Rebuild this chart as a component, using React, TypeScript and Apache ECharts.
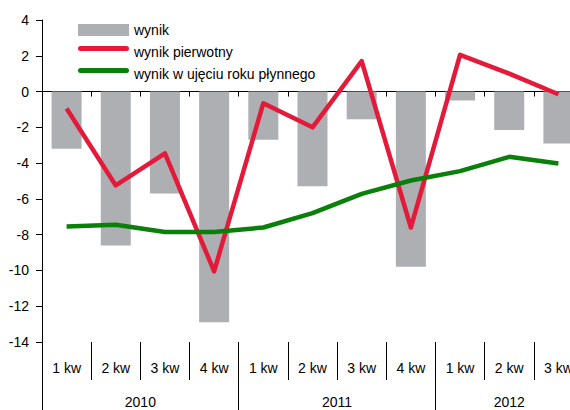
import React, { useEffect, useRef } from "react";
import * as echarts from "echarts";

const quarters = ["1 kw", "2 kw", "3 kw", "4 kw", "1 kw", "2 kw", "3 kw", "4 kw", "1 kw", "2 kw", "3 kw"];
const years = ["2010", "2010", "2010", "2010", "2011", "2011", "2011", "2011", "2012", "2012", "2012"];
const wynik = [-3.2, -8.6, -5.7, -12.9, -2.7, -5.3, -1.55, -9.8, -0.5, -2.15, -2.9];
const wynikPierwotny = [-0.95, -5.25, -3.45, -10.05, -0.65, -2.0, 1.7, -7.6, 2.05, 1.0, -0.15];
const wynikRoku = [-7.55, -7.45, -7.85, -7.85, -7.6, -6.8, -5.72, -4.97, -4.45, -3.65, -4.02];
const yTicks = { min: -14, max: 4, interval: 2 };

const FONT = "Liberation Sans, Arial, sans-serif";
// rounded bar near the top of the 51x12 icon box (an invisible zero-area line keeps the box height)
const LINE_ICON =
  "path://M2.5,0 H48.5 A2.5,2.5 0 0 1 48.5,5 H2.5 A2.5,2.5 0 0 1 2.5,0 Z M0,12 L51,12 L0,12 Z";

// group boundaries and centres derived from the years list
function yearGroups() {
  const starts: number[] = [];
  const centres: number[] = [];
  const labels: string[] = [];
  let i = 0;
  while (i < years.length) {
    let j = i;
    while (j < years.length && years[j] === years[i]) j++;
    starts.push(i);
    centres.push((i + j) / 2);
    labels.push(years[i]);
    i = j;
  }
  return { starts, centres, labels };
}

export default function App() {
  const ref = useRef<HTMLDivElement>(null);
  useEffect(() => {
    if (!ref.current) return;
    const chart = echarts.init(ref.current, undefined, { renderer: "svg" });
    const g = yearGroups();
    const option: any = {
      animation: false,
      textStyle: { fontFamily: FONT },
      legend: {
        orient: "vertical",
        left: 73,
        top: 18,
        itemWidth: 51,
        itemHeight: 12,
        itemGap: 8,
        symbolKeepAspect: true,
        itemStyle: { borderWidth: 0 },
        textStyle: { fontSize: 14, color: "#000", fontFamily: FONT },
        data: [
          { name: "wynik", icon: "rect" },
          { name: "wynik pierwotny", icon: LINE_ICON },
          { name: "wynik w ujęciu roku płynnego", icon: LINE_ICON },
        ],
      },
      grid: { left: 42, top: 20, bottom: 68, right: 0, containLabel: false },
      xAxis: [
        {
          type: "category",
          data: quarters,
          position: "bottom",
          axisLine: { onZero: true, lineStyle: { color: "#000", width: 1 } },
          axisTick: { show: true, interval: 0, length: 5, lineStyle: { color: "#000" } },
          axisLabel: { show: false },
          splitLine: { show: false },
        },
        {
          type: "category",
          data: quarters,
          position: "bottom",
          axisLine: { show: false, onZero: false },
          axisTick: { show: true, interval: 0, length: 38, lineStyle: { color: "#000" } },
          axisLabel: { show: true, interval: 0, fontSize: 14, color: "#000", margin: 19, fontFamily: FONT },
          splitLine: { show: false },
        },
        {
          type: "value",
          min: 0,
          max: quarters.length,
          position: "bottom",
          axisLine: { show: false, onZero: false },
          axisTick: { show: true, length: 68, customValues: g.starts, lineStyle: { color: "#000" } },
          axisLabel: {
            show: true,
            customValues: g.centres,
            fontSize: 14,
            color: "#000",
            margin: 53,
            fontFamily: FONT,
            formatter: (v: number) => {
              const k = g.centres.indexOf(v);
              return k >= 0 ? g.labels[k] : "";
            },
          },
          splitLine: { show: false },
        },
      ],
      yAxis: {
        type: "value",
        min: yTicks.min,
        max: yTicks.max,
        interval: yTicks.interval,
        axisLine: { show: true, lineStyle: { color: "#000", width: 1 } },
        axisTick: { show: true, length: 6, lineStyle: { color: "#000" } },
        axisLabel: { fontSize: 14, color: "#000", margin: 13, fontFamily: FONT },
        splitLine: { show: false },
      },
      series: [
        {
          name: "wynik",
          type: "bar",
          xAxisIndex: 0,
          data: wynik,
          barWidth: 30,
          itemStyle: { color: "#AEAFB3" },
        },
        {
          name: "wynik pierwotny",
          type: "line",
          xAxisIndex: 0,
          data: wynikPierwotny,
          symbol: "none",
          lineStyle: { color: "#E31A3A", width: 4.5, join: "round" },
          itemStyle: { color: "#E31A3A" },
        },
        {
          name: "wynik w ujęciu roku płynnego",
          type: "line",
          xAxisIndex: 0,
          data: wynikRoku,
          symbol: "none",
          lineStyle: { color: "#0A800A", width: 4.5, join: "round" },
          itemStyle: { color: "#0A800A" },
        },
      ],
    };
    chart.setOption(option);
    return () => chart.dispose();
  }, []);
  return (
    <div style={{ position: "absolute", left: 0, top: 0, width: 570, height: 410, overflow: "hidden", background: "#fff" }}>
      <div ref={ref} style={{ width: 583, height: 410 }} />
    </div>
  );
}
